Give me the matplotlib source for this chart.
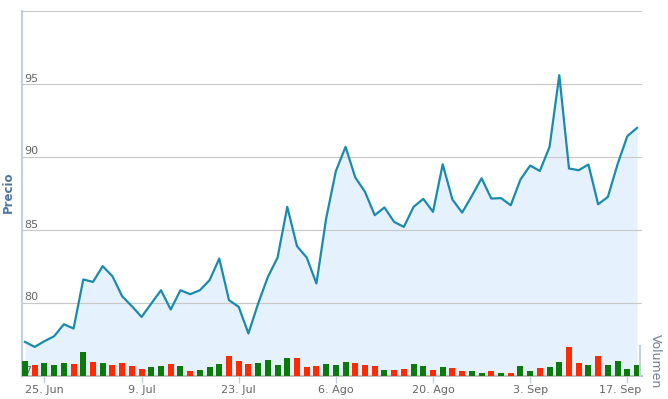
import numpy as np
import matplotlib
matplotlib.use('Agg')
import matplotlib.pyplot as plt
import matplotlib.transforms as mtransforms

# precio de cierre por sesion (21 jun - 18 sep)
precio = [77.30, 76.96, 77.35, 77.69, 78.51, 78.22, 81.58, 81.41, 82.49, 81.80,
          80.43, 79.75, 79.01, 79.93, 80.84, 79.52, 80.84, 80.57, 80.84, 81.53,
          83.01, 80.16, 79.70, 77.88, 79.93, 81.75, 83.08, 86.55, 83.86, 83.08,
          81.30, 85.75, 89.00, 90.66, 88.56, 87.58, 85.98, 86.51, 85.52, 85.18,
          86.55, 87.10, 86.21, 89.47, 87.05, 86.16, 87.30, 88.51, 87.12, 87.15,
          86.66, 88.42, 89.38, 89.01, 90.66, 95.57, 89.18, 89.06, 89.45, 86.73,
          87.23, 89.47, 91.39, 91.96]

# volumen (miles)
volumen = [146, 106, 126, 106, 126, 113, 233, 133, 126, 106,
           126, 96, 66, 86, 96, 116, 96, 46, 53, 86,
           113, 196, 146, 113, 126, 153, 106, 176, 176, 86,
           96, 116, 106, 133, 126, 106, 96, 53, 53, 66,
           113, 96, 53, 86, 73, 46, 46, 26, 43, 26,
           26, 96, 46, 76, 86, 133, 286, 126, 106, 196,
           106, 146, 66, 106]

tick_pos = [2, 12, 22, 32, 42, 52, 62]
tick_labels = ['25. Jun', '9. Jul', '23. Jul', '6. Ago', '20. Ago', '3. Sep', '17. Sep']
y_ticks = [75, 80, 85, 90, 95, 100]

W, H = 668, 399
n = len(precio)
s = (637 - 25) / (n - 1)   # px por sesion

fig = plt.figure(figsize=(W / 100, H / 100), dpi=100)

# panel de precio
left, right, top, bottom = 22, 642, 10.5, 375.5
ax = fig.add_axes([left / W, 1 - bottom / H, (right - left) / W, (bottom - top) / H])
x = np.arange(n)
ax.fill_between(x, precio, 75, color='#e5f1fc', lw=0, zorder=1)
ax.plot(x, precio, color='#1a8bac', lw=1.6, zorder=3)
ax.set_xlim(-(25 - left) / s, n - 1 + (right - 637) / s)
ax.set_ylim(75, 100)

ax.set_yticks(y_ticks)
ax.set_yticklabels([str(v) for v in y_ticks[:-1]] + [''])
ax.grid(axis='y', color='#c8c8c8', lw=0.8, zorder=0)
ax.tick_params(axis='y', length=0, pad=-1.5, labelsize=8, labelcolor='#666666')
for lab in ax.get_yticklabels():
    lab.set_horizontalalignment('left')
    lab.set_verticalalignment('bottom')

ax.set_xticks(tick_pos)
ax.set_xticklabels(tick_labels)
ax.tick_params(axis='x', length=5, width=1, color='#c0d0e0', pad=2,
               labelsize=8, labelcolor='#666666')
last = ax.get_xticklabels()[-1]
last.set_transform(last.get_transform() + mtransforms.ScaledTranslation(-0.07, 0, fig.dpi_scale_trans))

for side in ['top', 'right']:
    ax.spines[side].set_visible(False)
ax.spines['left'].set_color('#c0d0e0')
ax.spines['left'].set_linewidth(1.6)
ax.spines['bottom'].set_color('#c0c0c0')
ax.spines['bottom'].set_linewidth(1.5)
ax.spines['bottom'].set_zorder(5)

# panel de volumen
vright = 640
axv = fig.add_axes([left / W, 1 - bottom / H, (vright - left) / W, 29.5 / H])
axv.patch.set_alpha(0)
colores = ['#0a7a0a']
for i in range(1, n):
    colores.append('#0a7a0a' if precio[i] >= precio[i - 1] else '#ff2a00')
axv.bar(x, volumen, width=0.62, color=colores, zorder=2)
axv.set_xlim(-(25 - left) / s, n - 1 + (vright - 637) / s)
axv.set_ylim(0, 295)
axv.set_xticks([])
axv.set_yticks([])
for side in ['top', 'left', 'bottom']:
    axv.spines[side].set_visible(False)
axv.spines['right'].set_color('#c0d0e0')
axv.spines['right'].set_linewidth(1.5)

fig.text(8 / W, 1 - 192 / H, 'Precio', rotation=90, color='#4d759e',
         fontsize=8.5, fontweight='bold', ha='center', va='center')
fig.text(655 / W, 1 - 361 / H, 'Volumen', rotation=270, color='#6e7f94',
         fontsize=9, ha='center', va='center')

fig.savefig('out.png', dpi=100)
